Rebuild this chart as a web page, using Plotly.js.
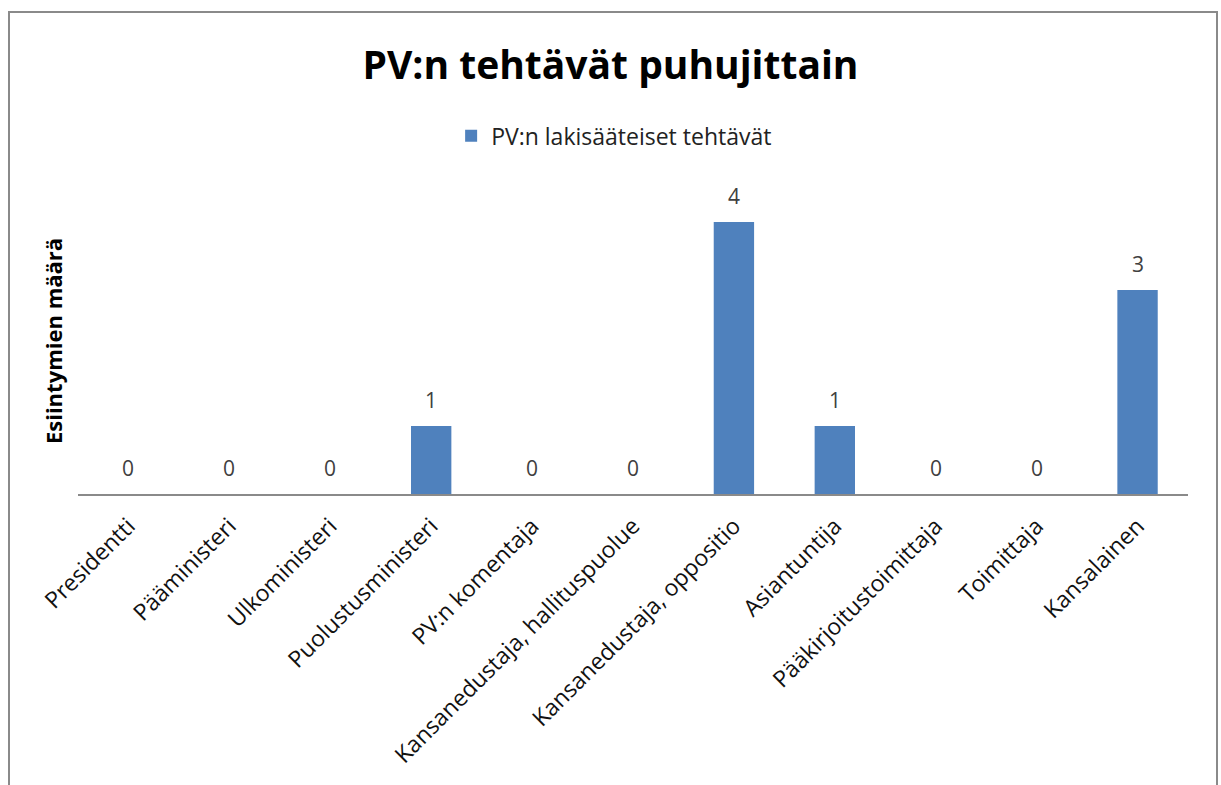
<!DOCTYPE html>
<html>
<head>
<meta charset="utf-8">
<script src="https://cdn.plot.ly/plotly-3.0.1.min.js"></script>
<style>
html,body{margin:0;padding:0;background:#fff;overflow:hidden;}
#frame{position:absolute;left:8px;top:11px;width:1206px;height:800px;border:2px solid #8a8a8a;}
#chart{position:absolute;left:0;top:0;width:1221px;height:785px;}
</style>
</head>
<body>
<div id="frame"></div>
<div id="chart"></div>
<script>
const categories = ["Presidentti","Pääministeri","Ulkoministeri","Puolustusministeri","PV:n komentaja","Kansanedustaja, hallituspuolue","Kansanedustaja, oppositio","Asiantuntija","Pääkirjoitustoimittaja","Toimittaja","Kansalainen"];
const values = [0,0,0,1,0,0,4,1,0,0,3];
const seriesName = "PV:n lakisääteiset tehtävät";
const chartTitle = "PV:n tehtävät puhujittain";
const yTitle = "Esiintymien määrä";

const FONT = "Open Sans, Liberation Sans, sans-serif";

const trace = {
  type: "bar",
  x: categories,
  y: values,
  name: seriesName,
  marker: {color: "#4F81BD"},
  showlegend: true
};

const labelAnnotations = categories.map((c, i) => ({
  x: c,
  y: values[i],
  xref: "x",
  yref: "y",
  text: String(values[i]),
  showarrow: false,
  yanchor: "bottom",
  yshift: 10,
  font: {family: FONT, size: 21, color: "#404040"}
}));

const layout = {
  width: 1221,
  height: 785,
  paper_bgcolor: "rgba(0,0,0,0)",
  plot_bgcolor: "rgba(0,0,0,0)",
  margin: {l: 78, r: 33, t: 188, b: 291},
  bargap: 0.6,
  title: {
    text: "<b>" + chartTitle + "</b>",
    font: {family: FONT, size: 39, color: "#000"},
    x: 0.5, xanchor: "center", y: 0.917, yanchor: "middle", yref: "container"
  },
  showlegend: true,
  legend: {
    orientation: "h",
    x: 0.483, xanchor: "center",
    y: 0.827, yanchor: "middle", yref: "container",
    font: {family: FONT, size: 23, color: "#222"},
    itemwidth: 30
  },
  annotations: labelAnnotations,
  xaxis: {
    type: "category",
    tickangle: -45,
    tickfont: {family: FONT, size: 23, color: "#111"},
    ticklabelstandoff: 8,
    showline: true,
    linecolor: "#8a8a8a",
    linewidth: 1.5,
    ticks: "",
    showgrid: false,
    zeroline: false,
    fixedrange: true
  },
  yaxis: {
    range: [0, 4.5],
    showticklabels: false,
    showgrid: false,
    zeroline: false,
    showline: false,
    ticks: "",
    fixedrange: true,
    title: {
      text: "<b>" + yTitle + "</b>",
      font: {family: FONT, size: 22, color: "#000"},
      standoff: 8
    }
  }
};

Plotly.newPlot("chart", [trace], layout, {displayModeBar: false, staticPlot: true});
</script>
</body>
</html>
